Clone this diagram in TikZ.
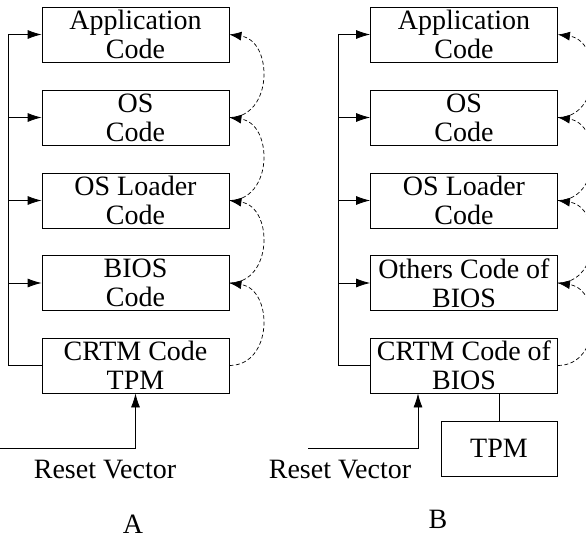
\documentclass[tikz,border=0pt]{standalone}
\usepackage{fontspec}
\setmainfont{Liberation Serif}
\usetikzlibrary{arrows.meta}

\tikzset{
  codebox/.style={draw, line width=0.8pt, minimum width=187pt, minimum height=55pt,
    inner sep=0pt, align=center, font=\fontsize{28}{29}\selectfont},
  plain/.style={font=\fontsize{28}{29}\selectfont, inner sep=0pt},
  wire/.style={line width=0.8pt},
  flow/.style={wire, -{Latex[length=14pt,width=9pt]}},
  chain/.style={line width=0.7pt, dash pattern=on 4pt off 2.5pt,
    -{Latex[length=12pt,width=9pt]}},
}

\begin{document}
\begin{tikzpicture}[x=1pt, y=-1pt]
  \useasboundingbox (0,0) rectangle (586,538);
  \clip (0,0) rectangle (586,538);

  % ---------- panel A ----------
  \node[codebox] (appA)  at (135.5,34.5)  {Application\\Code};
  \node[codebox] (osA)   at (135.5,117.5) {OS\\Code};
  \node[codebox] (ldrA)  at (135.5,200.5) {OS Loader\\Code};
  \node[codebox] (biosA) at (135.5,283)   {BIOS\\Code};
  \node[codebox] (crtmA) at (135.5,365.5) {CRTM Code\\TPM};

  \coordinate (busA) at (8,0);
  \draw[flow] (crtmA.west) -- (busA |- crtmA.west) |- (appA.west);
  \foreach \b in {osA,ldrA,biosA}
    \draw[flow] (busA |- \b.west) -- (\b.west);

  \foreach \lo/\hi in {crtmA/biosA, biosA/ldrA, ldrA/osA, osA/appA}
    \draw[chain] (\lo.east) .. controls +(44,0) and +(44,6) .. (\hi.east);

  \coordinate (rvA) at (0,448);
  \draw[flow] (rvA) -| (crtmA.south);
  \node[plain] (rvtA) at (105,470) {Reset Vector};
  \node[plain] (capA) at (133,524) {A};

  % ---------- panel B ----------
  \node[codebox] (appB)  at (464,34.5)  {Application\\Code};
  \node[codebox] (osB)   at (464,117.5) {OS\\Code};
  \node[codebox] (ldrB)  at (464,200.5) {OS Loader\\Code};
  \node[codebox] (othB)  at (464,283)   {Others Code of\\BIOS};
  \node[codebox] (crtmB) at (464,365.5) {CRTM Code of\\BIOS};
  \node[codebox, minimum width=116pt] (tpmB) at (499,448.5) {TPM};

  \coordinate (busB) at (338,0);
  \draw[flow] (crtmB.west) -- (busB |- crtmB.west) |- (appB.west);
  \foreach \b in {osB,ldrB,othB}
    \draw[flow] (busB |- \b.west) -- (\b.west);

  \foreach \lo/\hi in {crtmB/othB, othB/ldrB, ldrB/osB, osB/appB}
    \draw[chain] (\lo.east) .. controls +(44,0) and +(44,6) .. (\hi.east);

  \draw[wire] (tpmB.north) -- (tpmB.north |- crtmB.south);

  \coordinate (rvB) at (308,448);
  \draw[flow] (rvB) -| ([xshift=-46pt]crtmB.south);
  \node[plain] (rvtB) at (340,470) {Reset Vector};
  \node[plain] (capB) at (438,519) {B};
\end{tikzpicture}
\end{document}
